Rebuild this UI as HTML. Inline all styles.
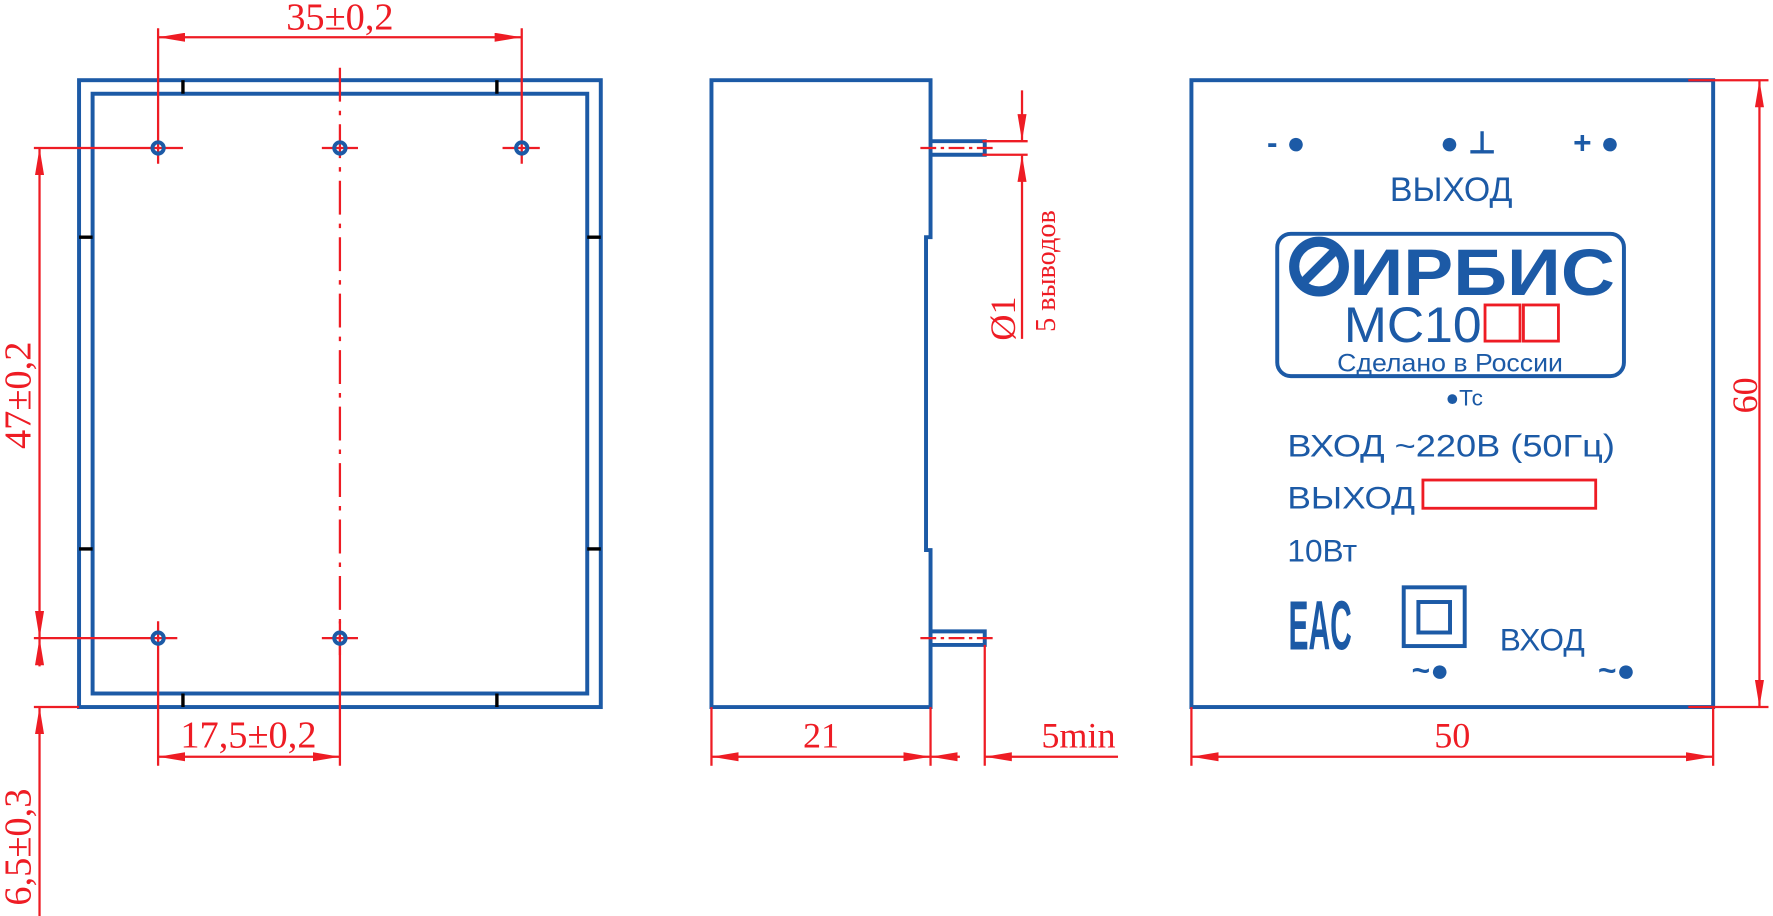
<!DOCTYPE html>
<html><head><meta charset="utf-8"><style>
html,body{margin:0;padding:0;background:#fff;}
svg{display:block;}
.b{stroke:#1c5aa6;stroke-width:3.5;fill:none;}
.r{stroke:#ee1c24;stroke-width:2;fill:none;}
.k{stroke:#000;stroke-width:3;}
.rt{fill:#ee1c24;font-family:"Liberation Serif",serif;}
.bt{fill:#1c5aa6;font-family:"Liberation Sans","DejaVu Sans",sans-serif;}
</style></head><body>
<svg width="1773" height="916" viewBox="0 0 1570 811" preserveAspectRatio="none" xmlns="http://www.w3.org/2000/svg">
<defs>
<marker id="a" viewBox="0 0 24 8" refX="24" refY="4" markerWidth="24" markerHeight="8" orient="auto-start-reverse" markerUnits="userSpaceOnUse"><path d="M0,0 L24,4 L0,8 z" fill="#ee1c24"/></marker>
</defs>
<!-- LEFT VIEW -->
<rect x="70" y="71" width="462" height="555" class="b"/>
<rect x="82" y="83" width="438" height="531" class="b"/>
<g class="k">
<line x1="162" y1="71" x2="162" y2="83"/><line x1="440" y1="71" x2="440" y2="83"/>
<line x1="162" y1="614" x2="162" y2="626"/><line x1="440" y1="614" x2="440" y2="626"/>
<line x1="70" y1="210" x2="82" y2="210"/><line x1="70" y1="486" x2="82" y2="486"/>
<line x1="520" y1="210" x2="532" y2="210"/><line x1="520" y1="486" x2="532" y2="486"/>
</g>
<line x1="301" y1="60" x2="301" y2="580" class="r" stroke-dasharray="30,8,4,8"/>
<g class="r">
<line x1="140" y1="25" x2="140" y2="145"/><line x1="462" y1="25" x2="462" y2="145"/>
<line x1="445" y1="131" x2="478" y2="131"/><line x1="285" y1="131" x2="317" y2="131"/>
<line x1="30" y1="131" x2="162" y2="131"/>
<line x1="30" y1="565" x2="157" y2="565"/><line x1="285" y1="565" x2="317" y2="565"/>
<line x1="140" y1="550" x2="140" y2="678"/><line x1="301" y1="550" x2="301" y2="678"/>
<line x1="30" y1="626" x2="70" y2="626"/>
<line x1="140" y1="33" x2="462" y2="33" marker-start="url(#a)" marker-end="url(#a)"/>
<line x1="35" y1="131" x2="35" y2="565" marker-start="url(#a)" marker-end="url(#a)"/>
<line x1="35" y1="565" x2="35" y2="590" marker-start="url(#a)"/>
<line x1="35" y1="626" x2="35" y2="811" marker-start="url(#a)"/>
<line x1="140" y1="670" x2="301" y2="670" marker-start="url(#a)" marker-end="url(#a)"/>
</g>
<g class="b"><circle cx="140" cy="131" r="5"/><circle cx="301" cy="131" r="5"/><circle cx="462" cy="131" r="5"/><circle cx="140" cy="565" r="5"/><circle cx="301" cy="565" r="5"/></g>
<text x="301" y="26" class="rt" font-size="34" text-anchor="middle">35±0,2</text>
<text transform="translate(27,350) rotate(-90)" class="rt" font-size="34" text-anchor="middle">47±0,2</text>
<text transform="translate(27,750) rotate(-90)" class="rt" font-size="34" text-anchor="middle">6,5±0,3</text>
<text x="220" y="662" class="rt" font-size="34" text-anchor="middle">17,5±0,2</text>
<!-- MIDDLE VIEW -->
<path d="M630,626 L630,71 L824,71 L824,210 L820,210 L820,487 L824,487 L824,626 Z" class="b"/>
<g class="b">
<path d="M824,125 L872,125 L872,137 L824,137"/>
<path d="M824,559 L872,559 L872,571 L824,571"/>
</g>
<g class="r">
<line x1="815" y1="131" x2="880" y2="131" stroke-dasharray="14,4,3,4"/>
<line x1="815" y1="565" x2="880" y2="565" stroke-dasharray="14,4,3,4"/>
<line x1="870" y1="125" x2="910" y2="125"/><line x1="870" y1="137" x2="910" y2="137"/>
<line x1="905" y1="80" x2="905" y2="125" marker-end="url(#a)"/>
<line x1="905" y1="300" x2="905" y2="137" marker-end="url(#a)"/>
<line x1="630" y1="626" x2="630" y2="678"/><line x1="824" y1="626" x2="824" y2="678"/><line x1="872" y1="571" x2="872" y2="678"/>
<line x1="630" y1="670" x2="824" y2="670" marker-start="url(#a)" marker-end="url(#a)"/>
<line x1="850" y1="670" x2="824" y2="670" marker-end="url(#a)"/>
<line x1="990" y1="670" x2="872" y2="670" marker-end="url(#a)"/>
</g>
<text transform="translate(899,282) rotate(-90)" class="rt" font-size="32" text-anchor="middle">Ø1</text>
<text transform="translate(934,240) rotate(-90)" class="rt" font-size="25" text-anchor="middle">5 выводов</text>
<text x="727" y="662" class="rt" font-size="32" text-anchor="middle">21</text>
<text x="955" y="662" class="rt" font-size="32" text-anchor="middle">5min</text>
<!-- RIGHT VIEW -->
<rect x="1055" y="71" width="462" height="555" class="b"/>
<g class="r">
<line x1="1495" y1="71" x2="1566" y2="71"/><line x1="1495" y1="626" x2="1566" y2="626"/>
<line x1="1558" y1="71" x2="1558" y2="626" marker-start="url(#a)" marker-end="url(#a)"/>
<line x1="1055" y1="626" x2="1055" y2="678"/><line x1="1517" y1="626" x2="1517" y2="678"/>
<line x1="1055" y1="670" x2="1517" y2="670" marker-start="url(#a)" marker-end="url(#a)"/>
</g>
<text transform="translate(1556,350) rotate(-90)" class="rt" font-size="32" text-anchor="middle">60</text>
<text x="1286" y="662" class="rt" font-size="32" text-anchor="middle">50</text>
<text x="1122" y="136" class="bt" font-size="28" font-weight="bold">- ●</text>
<text x="1275" y="136" class="bt" font-size="28" font-weight="bold">● ⊥</text>
<text x="1393" y="136" class="bt" font-size="28" font-weight="bold">+ ●</text>
<text x="1285" y="178" class="bt" font-size="30" text-anchor="middle">ВЫХОД</text>
<rect x="1131" y="207" width="307" height="126" rx="12" class="b"/>
<circle cx="1168" cy="236" r="22" fill="none" stroke="#1c5aa6" stroke-width="9"/>
<line x1="1152" y1="252" x2="1185" y2="219" stroke="#1c5aa6" stroke-width="8"/>
<text x="1195" y="261" class="bt" font-size="58" font-weight="bold" textLength="235" lengthAdjust="spacingAndGlyphs">ИРБИС</text>
<text x="1190" y="303" class="bt" font-size="44" textLength="122" lengthAdjust="spacingAndGlyphs">МС10</text>
<rect x="1315" y="270" width="31" height="32" fill="none" stroke="#ee1c24" stroke-width="2.5"/>
<rect x="1349" y="270" width="31" height="32" fill="none" stroke="#ee1c24" stroke-width="2.5"/>
<text x="1284" y="329" class="bt" font-size="22" text-anchor="middle" textLength="200" lengthAdjust="spacingAndGlyphs">Сделано в России</text>
<text x="1280" y="359" class="bt" font-size="20">●Тс</text>
<text x="1140" y="404" class="bt" font-size="28" textLength="290" lengthAdjust="spacingAndGlyphs">ВХОД ~220В (50Гц)</text>
<text x="1140" y="450" class="bt" font-size="28" textLength="113" lengthAdjust="spacingAndGlyphs">ВЫХОД</text>
<rect x="1260" y="425" width="153" height="25" fill="none" stroke="#ee1c24" stroke-width="2.5"/>
<text x="1140" y="497" class="bt" font-size="28">10Вт</text>
<text x="1141" y="575" class="bt" font-size="62" font-weight="bold" textLength="56" lengthAdjust="spacingAndGlyphs">EAC</text>
<rect x="1243" y="520" width="54" height="52" class="b"/>
<rect x="1256" y="533" width="28" height="27" class="b"/>
<text x="1328" y="576" class="bt" font-size="28">ВХОД</text>
<text x="1250" y="603" class="bt" font-size="28" font-weight="bold">~●</text>
<text x="1415" y="603" class="bt" font-size="28" font-weight="bold">~●</text>
</svg>
</body></html>
